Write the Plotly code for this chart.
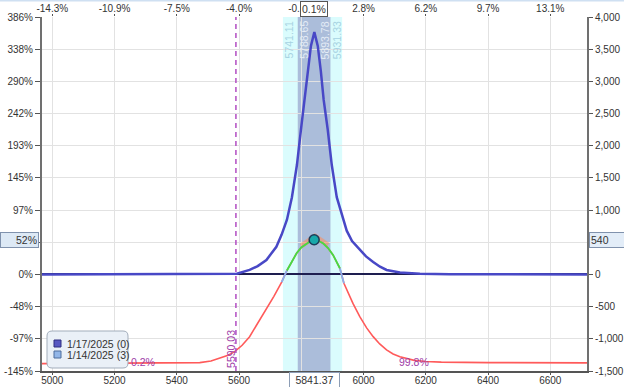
import plotly.graph_objects as go

# ---------------- data ----------------
X_RANGE = [4967, 6718]
Y_RANGE = [-1500, 4000]

x_ticks = [5000, 5200, 5400, 5600, 5800, 6000, 6200, 6400, 6600]
x_top_labels = ["-14.3%", "-10.9%", "-7.5%", "-4.0%", "-0.6%", "2.8%", "6.2%", "9.7%", "13.1%"]

y_ticks = [-1500, -1000, -500, 0, 500, 1000, 1500, 2000, 2500, 3000, 3500, 4000]
y_left_labels = ["-145%", "-97%", "-48%", "0%", "48%", "97%", "145%", "193%", "242%", "290%", "338%", "386%"]
y_right_labels = ["-1,500", "-1,000", "-500", "0", "500", "1,000", "1,500", "2,000", "2,500", "3,000", "3,500", "4,000"]

# Expiration P&L (1/17/2025)
exp_x = [4967, 5313, 5474, 5593, 5634, 5660, 5688, 5720, 5737, 5754, 5770, 5786, 5799, 5811, 5821, 5831,
         5842, 5853, 5863, 5872, 5885, 5898, 5914, 5935, 5946, 5963, 5988, 6008, 6031, 6053, 6074, 6117,
         6181, 6278, 6718]
exp_y = [0, 0, 2, 10, 70, 130, 225, 430, 620, 850, 1200, 1700, 2250, 2711, 3150, 3550,
         3765, 3550, 3150, 2711, 2250, 1700, 1200, 850, 680, 520, 380, 280, 195, 120, 70, 30,
         10, 3, 0]

# Current P&L (1/14/2025, 3 days)
now_x = [4967, 5200, 5400, 5474, 5510, 5538, 5565, 5586, 5610, 5634, 5660, 5688, 5712, 5737, 5754, 5770,
         5785, 5800, 5817, 5830, 5842, 5856, 5870, 5886, 5902, 5914, 5924, 5937, 5946, 5966, 5988, 6010,
         6031, 6052, 6074, 6095, 6117, 6140, 6163, 6200, 6250, 6400, 6718]
now_y = [-1385, -1383, -1378, -1370, -1345, -1300, -1255, -1200, -1100, -967, -760, -540, -340, -120, 62, 200,
         330, 420, 485, 520, 540, 520, 485, 410, 303, 200, 96, -137, -240, -450, -656, -830,
         -966, -1080, -1173, -1235, -1277, -1310, -1335, -1352, -1362, -1370, -1373]

# highlight near the peak
hl_x = [5800, 5844, 5886]
hl_y = [443, 598, 458]

spot_price = 5841.37
spot_pnl = 540
spot_pct = "52%"
spot_move = "0.1%"
breakeven = 5590.03
sd1 = [5741.11, 5931.33]
sd05 = [5788.65, 5893.78]
prob_left = "0.2%"
prob_right = "99.8%"
legend_items = ["1/17/2025 (0)", "1/14/2025 (3)"]

# ---------------- figure ----------------
FONT = "Liberation Sans, Arial, sans-serif"
L, R, T, B = 42, 37, 17, 16
W, H = 624, 387
PW, PH = W - L - R, H - T - B


def px(xp):
    return (xp - L) / PW


def py(yp):
    return (H - B - yp) / PH


fig = go.Figure()

fig.add_trace(go.Scatter(x=exp_x, y=exp_y, mode="lines", line=dict(color="#4848c6", width=2.5),
                         hoverinfo="skip", showlegend=False))
fig.add_trace(go.Scatter(x=now_x, y=now_y, mode="lines", line=dict(color="#ff5a5a", width=1.6),
                         hoverinfo="skip", showlegend=False))

i_a = now_x.index(5737)
i_b = now_x.index(5754)
i_c = now_x.index(5924)
i_d = now_x.index(5937)
fig.add_trace(go.Scatter(x=now_x[i_a:i_b + 1], y=now_y[i_a:i_b + 1], mode="lines",
                         line=dict(color="#8ab0ee", width=1.8), hoverinfo="skip", showlegend=False))
fig.add_trace(go.Scatter(x=now_x[i_c:i_d + 1], y=now_y[i_c:i_d + 1], mode="lines",
                         line=dict(color="#8ab0ee", width=1.8), hoverinfo="skip", showlegend=False))
fig.add_trace(go.Scatter(x=hl_x, y=hl_y, mode="lines", line=dict(color="rgba(255,140,90,0.55)", width=5),
                         hoverinfo="skip", showlegend=False))
fig.add_trace(go.Scatter(x=now_x[i_b:i_c + 1], y=now_y[i_b:i_c + 1], mode="lines",
                         line=dict(color="#44dd44", width=1.8), hoverinfo="skip", showlegend=False))
fig.add_trace(go.Scatter(x=[spot_price], y=[spot_pnl], mode="markers",
                         marker=dict(size=10, color="#19a8aa", line=dict(color="#1d3d5a", width=1.5)),
                         hoverinfo="skip", showlegend=False))
# carrier for top/right axes
fig.add_trace(go.Scatter(x=[X_RANGE[0]], y=[0], xaxis="x2", yaxis="y2", mode="markers",
                         marker=dict(opacity=0), hoverinfo="skip", showlegend=False))

shapes = [
    dict(type="rect", xref="x", yref="paper", x0=sd1[0], x1=sd1[1], y0=0, y1=1,
         fillcolor="#dafcfd", line=dict(width=0), layer="below"),
    dict(type="rect", xref="x", yref="paper", x0=sd05[0], x1=sd05[1], y0=0, y1=1,
         fillcolor="#abbdda", line=dict(width=0), layer="below"),
    dict(type="line", xref="x", yref="paper", x0=breakeven, x1=breakeven, y0=0, y1=1,
         line=dict(color="#b24cc2", width=1.5, dash="5px,4px"), layer="above"),
    dict(type="line", xref="paper", yref="paper", x0=px(0), x1=px(W), y0=py(0.5), y1=py(0.5),
         line=dict(color="#cfe0f2", width=2), layer="above"),
]

# legend box (rounded)
lx0, lx1, ly0, ly1, r = 47, 128, 331, 368, 5
path = (f"M {px(lx0 + r)} {py(ly0)} L {px(lx1 - r)} {py(ly0)} Q {px(lx1)} {py(ly0)} {px(lx1)} {py(ly0 + r)} "
        f"L {px(lx1)} {py(ly1 - r)} Q {px(lx1)} {py(ly1)} {px(lx1 - r)} {py(ly1)} "
        f"L {px(lx0 + r)} {py(ly1)} Q {px(lx0)} {py(ly1)} {px(lx0)} {py(ly1 - r)} "
        f"L {px(lx0)} {py(ly0 + r)} Q {px(lx0)} {py(ly0)} {px(lx0 + r)} {py(ly0)} Z")
shapes.append(dict(type="path", xref="paper", yref="paper", path=path, fillcolor="#eaf0f7",
                   line=dict(color="#a2adbb", width=1), layer="above"))
sq_colors = [("#5858c2", "#2e2e80"), ("#92b6e8", "#4c6c9c")]
for k, (fc, lc) in enumerate(sq_colors):
    cy = 343.5 + 11 * k
    shapes.append(dict(type="rect", xref="paper", yref="paper", x0=px(54), x1=px(61),
                       y0=py(cy + 3.5), y1=py(cy - 3.5), fillcolor=fc, line=dict(color=lc, width=1),
                       layer="above"))

annotations = []
for k, name in enumerate(legend_items):
    annotations.append(dict(xref="paper", yref="paper", x=px(65), y=py(343.5 + 11 * k), text=name,
                            showarrow=False, xanchor="left", yanchor="middle",
                            font=dict(family=FONT, size=10.5, color="#333333")))

band_labels = [(sd1[0], 6, "#a6d2e2"), (sd05[0], 6, "#e4ecf6"), (sd05[1], -5, "#e4ecf6"), (sd1[1], -5, "#a6d2e2")]
for xv, sh, col in band_labels:
    annotations.append(dict(x=xv, xref="x", y=1, yref="paper", yanchor="top", xanchor="center",
                            xshift=sh, yshift=-2, text=f"{xv:.2f}", textangle=-90, showarrow=False,
                            font=dict(family=FONT, size=10.5, color=col)))

annotations += [
    dict(x=breakeven, xref="x", y=0, yref="paper", yanchor="bottom", xanchor="center", xshift=-5, yshift=1,
         text=f"{breakeven:.2f}", textangle=-90, showarrow=False,
         font=dict(family=FONT, size=10.5, color="#a040a8")),
    dict(x=5245, xref="x", y=-1365, yref="y", xanchor="left", yanchor="middle", text=prob_left,
         showarrow=False, font=dict(family=FONT, size=10.5, color="#a040a8")),
    dict(x=6106, xref="x", y=-1365, yref="y", xanchor="left", yanchor="middle", text=prob_right,
         showarrow=False, font=dict(family=FONT, size=10.5, color="#a040a8")),
    dict(x=spot_price, xref="x", y=0, yref="paper", yanchor="top", xanchor="center", yshift=-1,
         text=f"{spot_price:.2f}", width=47, showarrow=False, bgcolor="white", bordercolor="#8c9db5",
         borderwidth=1, borderpad=1, font=dict(family=FONT, size=10.5, color="#333333")),
    dict(x=spot_price, xref="x", y=1, yref="paper", yanchor="bottom", xanchor="center", yshift=0,
         text=spot_move, showarrow=False, bgcolor="white", bordercolor="#555555",
         borderwidth=1, borderpad=1, font=dict(family=FONT, size=10.5, color="#333333")),
    dict(x=1, xref="paper", y=spot_pnl, yref="y", xanchor="left", yanchor="middle", xshift=2,
         text=f"{spot_pnl}", width=40, align="left", showarrow=False, bgcolor="#e3edf8",
         bordercolor="#8092ad", borderwidth=1, borderpad=1,
         font=dict(family=FONT, size=10.5, color="#333333")),
    dict(x=0, xref="paper", y=spot_pnl, yref="y", xanchor="right", yanchor="middle", xshift=-3,
         text=spot_pct, width=35, align="right", showarrow=False, bgcolor="#dde9f5",
         bordercolor="#8092ad", borderwidth=1, borderpad=1,
         font=dict(family=FONT, size=10.5, color="#333333")),
]

ytickfont = dict(family=FONT, size=10, color="#333333")
xtickfont = dict(family=FONT, size=10, color="#333333")
fig.update_layout(
    width=W, height=H, margin=dict(l=L, r=R, t=T, b=B, pad=0, autoexpand=False),
    paper_bgcolor="white", plot_bgcolor="white", showlegend=False,
    xaxis=dict(range=X_RANGE, tickvals=x_ticks, ticktext=[str(v) for v in x_ticks], showgrid=True,
               gridcolor="#e2e2e2", gridwidth=1, showline=True, linecolor="#555555", linewidth=1.5,
               ticks="outside", ticklen=2, tickcolor="#555555", zeroline=False, tickfont=xtickfont,
               ticklabelstandoff=-3, automargin=False),
    xaxis2=dict(range=X_RANGE, overlaying="x", side="top", tickvals=x_ticks, ticktext=x_top_labels,
                showgrid=False, showline=False, ticks="outside", ticklen=2, tickcolor="#555555",
                zeroline=False, tickfont=xtickfont, ticklabelstandoff=-2, automargin=False),
    yaxis=dict(range=Y_RANGE, tickvals=y_ticks, ticktext=y_left_labels, showgrid=True, gridcolor="#e2e2e2",
               gridwidth=1, showline=True, linecolor="#707070", linewidth=2, ticks="outside", ticklen=5,
               tickcolor="#555555", zeroline=True, zerolinecolor="#1e1e50", zerolinewidth=2,
               tickfont=ytickfont, automargin=False),
    yaxis2=dict(range=Y_RANGE, overlaying="y", side="right", tickvals=y_ticks, ticktext=y_right_labels,
                showgrid=False, showline=True, linecolor="#707070", linewidth=2, ticks="outside",
                ticklen=4, tickcolor="#555555", zeroline=False, tickfont=ytickfont, automargin=False),
    shapes=shapes, annotations=annotations,
)

fig.write_html("out.html")
